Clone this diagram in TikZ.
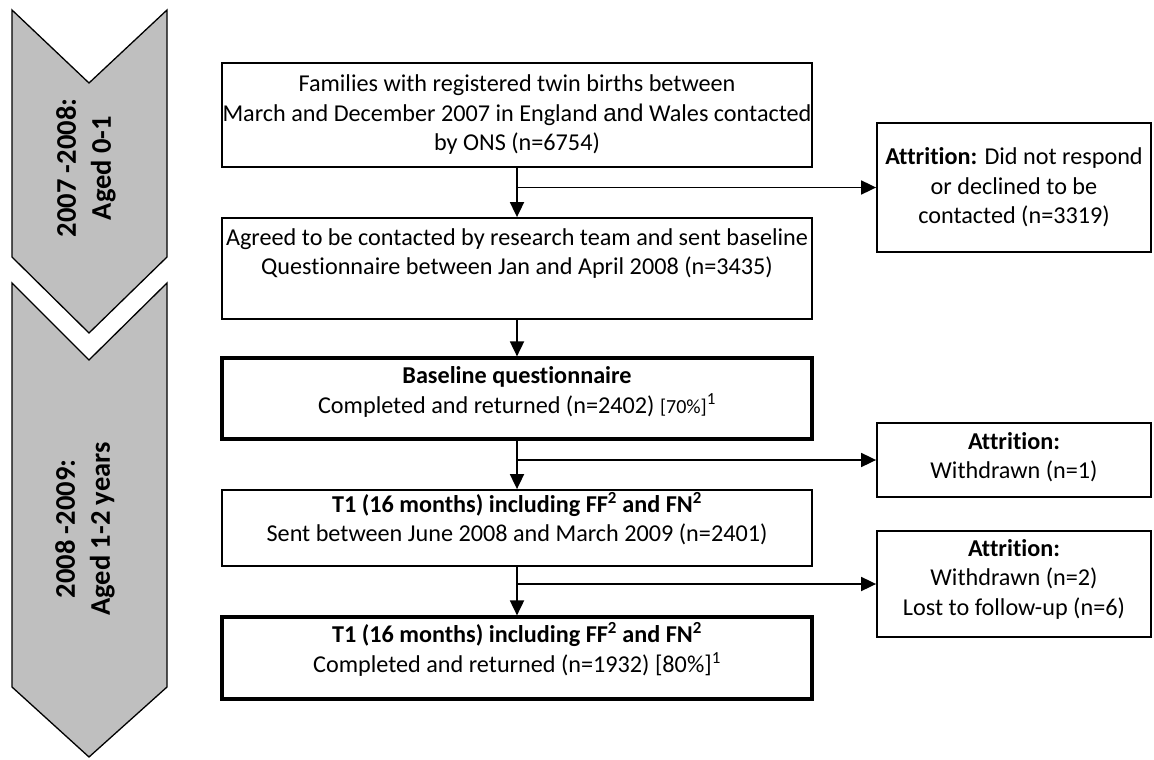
\documentclass[tikz,border=0pt]{standalone}
\usepackage{fontspec}
\setmainfont[Ligatures={NoCommon}]{Carlito}
\newfontfamily\arialfont{Liberation Sans}
\usetikzlibrary{arrows.meta}
\definecolor{chevgray}{RGB}{191,191,191}
\begin{document}
\begin{tikzpicture}[x=1pt, y=-1pt,
    font=\fontsize{24.2}{29.5}\selectfont,
    box/.style={draw, line width=1.8pt, minimum width=590pt, inner sep=0pt},
    boldbox/.style={box, line width=3.2pt},
    attbox/.style={draw, line width=1.8pt, minimum width=274pt, inner sep=0pt},
    txt/.style={anchor=north, align=center, inner sep=0pt},
    arr/.style={line width=1.8pt, -{Triangle[length=15pt,width=14pt]}},
    chev/.style={draw, fill=chevgray, line width=1.3pt, line join=miter},
    yeartxt/.style={rotate=90, align=center, font=\bfseries\fontsize{28.5}{35}\selectfont}]
            \useasboundingbox (0,0) rectangle (1154,760);
            \begin{scope}
                \draw[chev] (12,10) -- (89,83) -- (167,10) -- (167,257)
                -- (89,333) -- (12,257) -- cycle;
                \node[yeartxt] (year1) at (86,168) {2007 -2008:\\ Aged 0-1};
            \end{scope}
            \begin{scope}
                \draw[chev] (12,283) -- (89,360) -- (167,283) -- (167,687)
                -- (89,757) -- (12,687) -- cycle;
                \node[yeartxt] (year2) at (85,529) {2008 -2009:\\ Aged 1-2 years};
            \end{scope}
            \node[box, minimum height=104pt, align=center] (ons) at (517,115)
                {Families with registered twin births between\\
                 March and December 2007 in England {\arialfont and} Wales contacted\\
                 by ONS (n=6754)};
            \node[box, minimum height=101pt, label={[txt, yshift=-11pt]north:{Agreed to be contacted by research team and sent baseline\\ Questionnaire between Jan and April 2008 (n=3435)}}] (sent) at (517,268.5) {};
            \node[boldbox, minimum height=81pt, label={[txt, yshift=-10pt]north:{\textbf{Baseline questionnaire}\\ Completed and returned (n=2402) {\fontsize{20}{29.5}\selectfont[70\%]}\textsuperscript{1}}}] (base) at (517,398.5) {};
            \node[box, minimum height=76pt, label={[txt, yshift=-3pt]north:{\textbf{T1 (16 months) including FF\textsuperscript{2} and FN\textsuperscript{2}}\\ Sent between June 2008 and March 2009 (n=2401)}}] (tsent) at (517,528) {};
            \node[boldbox, minimum height=82pt, label={[txt, yshift=-7pt]north:{\textbf{T1 (16 months) including FF\textsuperscript{2} and FN\textsuperscript{2}}\\ Completed and returned (n=1932) [80\%]\textsuperscript{1}}}] (tdone) at (517,658) {};
            \node[attbox, minimum height=129pt, align=center] (att1) at (1014,187.5)
                {\textbf{Attrition:} Did not respond\\ or declined to be\\ contacted (n=3319)};
            \node[attbox, minimum height=74pt, label={[txt, yshift=-10pt]north:{\textbf{Attrition:}\\ Withdrawn (n=1)}}] (att2) at (1014,460) {};
            \node[attbox, minimum height=106pt, label={[txt, yshift=-9pt]north:{\textbf{Attrition:}\\ Withdrawn (n=2)\\ Lost to follow-up (n=6)}}] (att3) at (1014,584) {};
            \draw[arr] (ons) -- (sent);
            \draw[arr] (ons.south |- att1.west) -- (att1.west);
            \draw[arr] (sent) -- (base);
            \draw[arr] (base) -- (tsent);
            \draw[arr] (base.south |- att2.west) -- (att2.west);
            \draw[arr] (tsent) -- (tdone);
            \draw[arr] (tsent.south |- att3.west) -- (att3.west);
\end{tikzpicture}
\end{document}
